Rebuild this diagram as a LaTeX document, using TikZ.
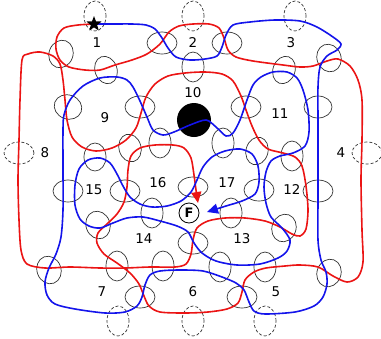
\documentclass[tikz,border=0pt]{standalone}
\usepackage{fontspec}
\setmainfont{DejaVu Sans}
\usetikzlibrary{arrows.meta,shapes.geometric}
\definecolor{rd}{RGB}{235,20,20}
\definecolor{bl}{RGB}{20,20,235}
\definecolor{eg}{RGB}{50,50,50}
\begin{document}
\begin{tikzpicture}[x=1bp,y=-1bp,
  lbl/.style={font=\fontsize{13.5}{13.5}\selectfont, inner sep=0pt},
  cross/.style={draw=eg, line width=0.7bp},
  gate/.style={draw=eg, line width=0.7bp, dash pattern=on 3bp off 2bp},
  rpath/.style={draw=rd, line width=1.6bp},
  bpath/.style={draw=bl, line width=1.6bp},
  tip/.style={-{Triangle[length=11bp,width=10bp]}}
]
\useasboundingbox (0,0) rectangle (381,339);
% crossing ellipses
\foreach \x/\y/\a/\b/\r in {61/54/12/14/-20,106/70/11/14/20,193/67/11/15/0,284/70/11/14/-20,329/58/12/14/20,
  162/43/15/11/0,227/43/15/11/0,68/107/14/12/-20,140/107/15/11/0,246/107/15/11/0,318/107/14/11/0,
  95/157/11/14/0,130/148/11/14/15,160/143/11/15/0,223/143/11/15/0,257/151/11/14/-15,292/156/11/15/0,
  68/191/15/11/0,125/191/15/11/0,193/187/15/10/0,259/190/15/11/0,318/191/15/11/0,
  98/225/12/14/20,152/213/11/15/0,231/213/11/15/0,284/228/12/14/-20,193/243/15/11/0,
  117/266/11/15/0,163/266/11/15/0,220/267/11/15/0,265/267/11/15/0,49/270/12/14/20,329/273/12/14/-20,
  140/297/15/11/0,242/297/15/11/0}
  \draw[cross, rotate around={\r:(\x,\y)}] (\x,\y) ellipse [x radius=\a bp, y radius=\b bp];
% gate ellipses
\foreach \x/\y/\a/\b in {95/16/11/15,193/16/11/15,295/16/11/15,19/153/15/11,367/153/15/11,118/321/11/15,193/321/11/15,265/321/11/15}
  \draw[gate] (\x,\y) ellipse [x radius=\a bp, y radius=\b bp];
% black disc
\node[circle, fill=black, minimum size=34bp, inner sep=0pt] (disc) at (194,120) {};
% F
\node[draw, circle, line width=0.8bp, minimum size=20bp, inner sep=0pt, font=\bfseries\fontsize{13}{13}\selectfont] (F) at (189,213) {F};
\coordinate (redend) at (198,203);
\coordinate (blueend) at (207,212);
\coordinate (s) at (94,24);
% red closed loop
\draw[rpath] plot[smooth cycle] coordinates {(22,60) (20,100) (19,140) (18,180) (19,220) (21,250) (27,264) (45,268) (70,267) (100,268) (125,268) (150,267) (175,267) (186,264) (191,254) (193,240) (197,228) (208,221) (225,218) (245,218) (265,221) (280,227) (292,234) (300,236) (306,229) (308,210) (306,186) (302,166) (295,157) (283,153) (268,149) (259,140) (252,126) (246,110) (241,96) (233,81) (222,74) (205,72) (185,73) (168,76) (155,84) (146,97) (141,113) (136,128) (126,140) (112,148) (96,151) (82,147) (72,137) (67,120) (65,100) (63,80) (60,64) (53,56) (40,52) (28,54)};
% red path
\draw[rpath, tip] plot[smooth] coordinates {(s) (78,25) (64,28) (57,37) (56,49) (60,60) (69,67) (85,70) (100,70) (115,65) (132,60) (147,54) (160,44) (169,32) (179,26) (193,24) (209,24) (219,28) (224,38) (228,50) (236,57) (253,61) (283,65) (300,67) (313,66) (327,61) (338,59) (350,66) (358,80) (362,100) (362,140) (361,180) (362,230) (363,262) (358,277) (347,282) (333,276) (318,267) (300,265) (285,266) (266,268) (254,272) (245,280) (242,292) (238,303) (227,309) (208,312) (185,313) (160,312) (149,306) (144,296) (139,284) (130,273) (117,263) (104,254) (97,243) (98,233) (107,224) (117,214) (124,202) (127,187) (128,170) (131,156) (140,148) (155,145) (173,145) (184,148) (191,158) (194,175) (196,190) (redend)};
% blue path
\draw[bpath, tip] plot[smooth] coordinates {(s) (112,24) (132,24) (146,25) (155,29) (162,38) (168,48) (176,57) (190,60) (205,59) (217,56) (222,47) (226,35) (233,25) (250,22) (275,20) (300,21) (317,27) (333,37) (341,44) (337,50) (327,56) (320,67) (318,87) (318,120) (318,160) (318,200) (318,240) (321,260) (326,272) (327,284) (323,297) (314,306) (295,312) (265,314) (254,311) (249,302) (244,290) (236,283) (222,277) (203,271) (180,270) (160,271) (150,275) (145,285) (142,297) (137,306) (125,312) (105,313) (75,309) (55,304) (47,295) (45,282) (49,268) (56,254) (61,237) (63,210) (63,170) (63,130) (64,115) (70,100) (83,86) (100,78) (117,77) (127,80) (133,87) (140,101) (147,117) (153,130) (163,135) (174,132) (190,125) (206,120) (216,127) (226,136) (233,133) (240,120) (247,100) (253,85) (261,77) (273,72) (287,72) (297,78) (303,90) (308,110) (309,132) (305,146) (293,153) (280,156) (271,161) (266,172) (264,187) (266,203) (271,217) (282,228) (290,240) (287,251) (278,258) (260,264) (237,265) (216,261) (202,253) (194,243) (188,232) (177,226) (160,221) (143,217) (127,218) (113,223) (100,228) (89,226) (80,219) (75,205) (75,185) (79,169) (88,160) (100,158) (110,163) (117,174) (123,186) (130,197) (140,204) (152,207) (167,206) (181,201) (191,192) (197,180) (203,167) (212,157) (225,151) (240,149) (252,154) (258,166) (259,182) (255,194) (242,201) (226,206) (blueend)};
% start star
\node[star, star points=5, star point ratio=2.4, fill=black, inner sep=0pt, minimum size=16bp] (start) at (s) {};
% labels
\foreach \t/\x/\y in {1/97/43,2/193/43,3/291/43,4/341/153,5/276/292,6/193/292,7/102/292,8/45/153,9/105/118,10/193/93,11/280/114,12/292/190,13/242/239,14/144/239,15/94/190,16/158/183,17/227/183}
  \node[lbl] (n\t) at (\x,\y) {\t};
\end{tikzpicture}
\end{document}
